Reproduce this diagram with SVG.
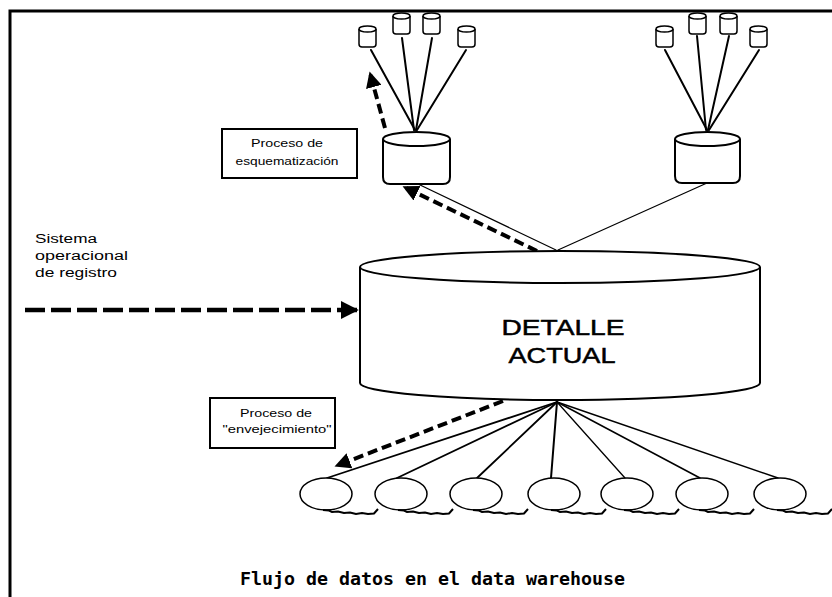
<svg xmlns="http://www.w3.org/2000/svg" xmlns:xlink="http://www.w3.org/1999/xlink" width="832" height="597" viewBox="0 0 832 597">
<style>
.ln{fill:none;stroke:#000;stroke-linecap:round}
.shape{fill:#fff;stroke:#000;stroke-width:2}
.dash{fill:none;stroke:#000;stroke-width:4.5;stroke-dasharray:20 6}
.dash2{fill:none;stroke:#000;stroke-width:4;stroke-dasharray:10 5}
.lbl{font-family:"Liberation Sans",Arial,sans-serif;font-size:11.5px;fill:#000}
.side{font-family:"Liberation Sans",Arial,sans-serif;font-size:12.5px;fill:#000}
.big{font-family:"Liberation Sans",Arial,sans-serif;font-size:22px;fill:#000;stroke:#000;stroke-width:0.5}
.cap{font-family:"DejaVu Sans Mono",monospace;font-size:17px;font-weight:bold;fill:#000}
</style>
<defs>
<marker id="ah" viewBox="0 0 10 10" refX="9" refY="5" markerWidth="4" markerHeight="4" orient="auto" markerUnits="strokeWidth">
<path d="M0,0 L10,5 L0,10 Z" fill="#000"/>
</marker>
<g id="scyl">
<path d="M0,3 V18 Q0,21 3,21 H14 Q17,21 17,18 V3" fill="#fff" stroke="#000" stroke-width="1.5"/>
<ellipse cx="8.5" cy="3" rx="8.5" ry="3" fill="#fff" stroke="#000" stroke-width="1.5"/>
</g>
<g id="disk">
<ellipse cx="0" cy="0" rx="26" ry="16" fill="#fff" stroke="#000" stroke-width="1.5"/>
<path d="M-3,16 L3,16.5 L6,18 L12,17.5 L18,19 L24,18.5 L30,20 L36,19 L42,20 L48,19.5 L52,15" fill="none" stroke="#000" stroke-width="2"/>
</g>
</defs>
<rect x="0" y="0" width="832" height="597" fill="#fff"/>
<path d="M10,597 V11 H832" fill="none" stroke="#000" stroke-width="3"/>

<g id="connectors">
<line class="ln" stroke-width="2" x1="371" y1="50" x2="415" y2="130"/>
<line class="ln" stroke-width="2" x1="402" y1="38" x2="414" y2="130"/>
<line class="ln" stroke-width="2" x1="432" y1="38" x2="416" y2="130"/>
<line class="ln" stroke-width="2" x1="466" y1="50" x2="417" y2="130"/>
<line class="ln" stroke-width="2" x1="665" y1="50" x2="707" y2="130"/>
<line class="ln" stroke-width="2" x1="697" y1="36" x2="706" y2="130"/>
<line class="ln" stroke-width="2" x1="729" y1="36" x2="708" y2="130"/>
<line class="ln" stroke-width="2" x1="759" y1="50" x2="709" y2="130"/>
<line class="ln" stroke-width="1.2" x1="418" y1="184" x2="556" y2="250"/>
<line class="ln" stroke-width="1.2" x1="707" y1="183" x2="558" y2="250"/>
<line class="dash2" x1="385" y1="128" x2="370" y2="73" marker-end="url(#ah)"/>
<line class="dash2" x1="537" y1="251" x2="404" y2="187" marker-end="url(#ah)"/>
<line class="dash" x1="25" y1="310" x2="357" y2="310" marker-end="url(#ah)"/>
<line class="dash2" x1="503" y1="401" x2="336" y2="466" marker-end="url(#ah)"/>
<line class="ln" stroke-width="1.8" x1="557" y1="402" x2="327" y2="478"/>
<line class="ln" stroke-width="1.8" x1="557" y1="402" x2="397" y2="478"/>
<line class="ln" stroke-width="1.8" x1="557" y1="402" x2="477" y2="478"/>
<line class="ln" stroke-width="2" x1="557" y1="402" x2="551" y2="478"/>
<line class="ln" stroke-width="1.3" x1="557" y1="402" x2="625" y2="478"/>
<line class="ln" stroke-width="1.5" x1="557" y1="402" x2="700" y2="478"/>
<line class="ln" stroke-width="1.5" x1="557" y1="402" x2="778" y2="478"/>
</g>

<g id="src-left">
<use xlink:href="#scyl" x="359" y="26"/>
<use xlink:href="#scyl" x="393" y="13"/>
<use xlink:href="#scyl" x="423" y="13"/>
<use xlink:href="#scyl" x="458" y="26"/>
</g>
<g id="src-right">
<use xlink:href="#scyl" x="656" y="26"/>
<use xlink:href="#scyl" x="689" y="13"/>
<use xlink:href="#scyl" x="720" y="13"/>
<use xlink:href="#scyl" x="750" y="26"/>
</g>

<g id="cyl-left">
<path class="shape" d="M383,139 V177 Q383,184 390,184 H443 Q450,184 450,177 V139"/>
<ellipse class="shape" cx="416.5" cy="139" rx="33.5" ry="7"/>
</g>
<g id="cyl-right">
<path class="shape" d="M675,139 V176 Q675,183 682,183 H733 Q740,183 740,176 V139"/>
<ellipse class="shape" cx="707.5" cy="139" rx="32.5" ry="7"/>
</g>

<g id="box-esquema">
<rect x="222" y="129" width="135" height="49" fill="#fff" stroke="#000" stroke-width="2"/>
<text class="lbl" x="287" y="147" text-anchor="middle" textLength="72" lengthAdjust="spacingAndGlyphs">Proceso de</text>
<text class="lbl" x="287" y="165" text-anchor="middle" textLength="103" lengthAdjust="spacingAndGlyphs">esquematización</text>
</g>

<g id="sistema">
<text class="side" x="35" y="243" textLength="62" lengthAdjust="spacingAndGlyphs">Sistema</text>
<text class="side" x="35" y="260" textLength="93" lengthAdjust="spacingAndGlyphs">operacional</text>
<text class="side" x="35" y="277" textLength="82" lengthAdjust="spacingAndGlyphs">de registro</text>
</g>

<g id="detalle">
<path class="shape" stroke-width="2.5" d="M360,267 V383 A200,17 0 0 0 760,383 V267"/>
<ellipse class="shape" stroke-width="2.5" cx="560" cy="267" rx="200" ry="16"/>
<text class="big" x="563" y="335" text-anchor="middle" textLength="123" lengthAdjust="spacingAndGlyphs">DETALLE</text>
<text class="big" x="562" y="363" text-anchor="middle" textLength="107" lengthAdjust="spacingAndGlyphs">ACTUAL</text>
</g>

<g id="box-envejec">
<rect x="210" y="398" width="125" height="50" fill="#fff" stroke="#000" stroke-width="2"/>
<text class="lbl" x="276" y="417" text-anchor="middle" textLength="72" lengthAdjust="spacingAndGlyphs">Proceso de</text>
<text class="lbl" x="277" y="433" text-anchor="middle" textLength="109" lengthAdjust="spacingAndGlyphs">"envejecimiento"</text>
</g>

<g id="disks">
<use xlink:href="#disk" x="326" y="494"/>
<use xlink:href="#disk" x="401" y="494"/>
<use xlink:href="#disk" x="476" y="494"/>
<use xlink:href="#disk" x="554" y="494"/>
<use xlink:href="#disk" x="627" y="494"/>
<use xlink:href="#disk" x="702" y="494"/>
<use xlink:href="#disk" x="780" y="494"/>
</g>

<g id="caption">
<text class="cap" x="240" y="585" textLength="385" lengthAdjust="spacingAndGlyphs">Flujo de datos en el data warehouse</text>
</g>
</svg>
